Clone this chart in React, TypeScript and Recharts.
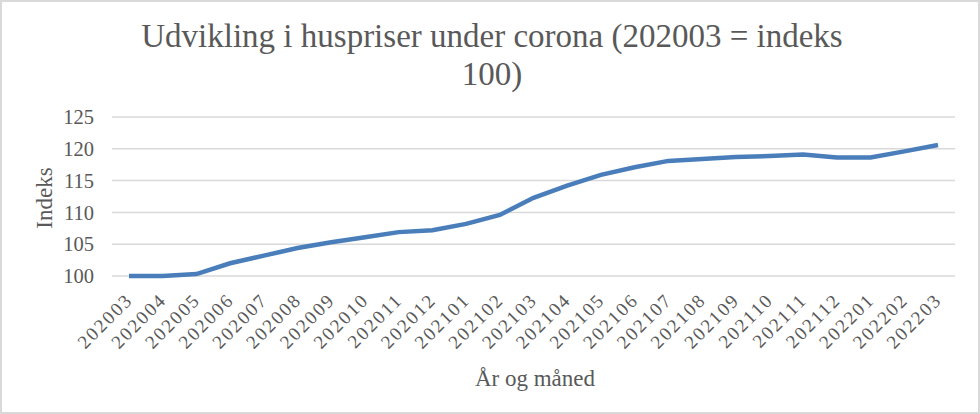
import React from 'react';
import { LineChart, Line, XAxis, YAxis, CartesianGrid } from 'recharts';

const months: string[] = [
  '202003', '202004', '202005', '202006', '202007', '202008', '202009', '202010', '202011', '202012',
  '202101', '202102', '202103', '202104', '202105', '202106', '202107', '202108', '202109', '202110',
  '202111', '202112', '202201', '202202', '202203',
];

const indexValues: number[] = [
  100.0, 100.0, 100.3, 102.0, 103.2, 104.4, 105.3, 106.1, 106.9, 107.2,
  108.2, 109.6, 112.3, 114.2, 115.9, 117.1, 118.1, 118.4, 118.7, 118.85,
  119.1, 118.65, 118.65, 119.6, 120.6,
];

const yTicks: number[] = [100, 105, 110, 115, 120, 125];

const data = months.map((m, i) => ({ month: m, value: indexValues[i] }));

const FONT = '"Liberation Serif", "DejaVu Serif", serif';
const TEXT = '#595959';

const XTick = (props: any) => {
  const { x, y, payload } = props;
  return (
    <g transform={`translate(${x + 5},${y + 17})`}>
      <text
        x={0}
        y={0}
        textAnchor="end"
        transform="rotate(-45)"
        fill={TEXT}
        fontFamily={FONT}
        fontSize={19}
        letterSpacing={2}
      >
        {payload.value}
      </text>
    </g>
  );
};

export default function App() {
  return (
    <div
      style={{
        position: 'absolute',
        left: 0,
        top: 0,
        width: 980,
        height: 414,
        background: '#fff',
        boxSizing: 'border-box',
        border: '2px solid #d9d9d9',
        fontFamily: FONT,
      }}
    >
      <div
        style={{
          position: 'absolute',
          left: 0,
          top: 0,
          width: 980,
          textAlign: 'center',
          fontFamily: FONT,
          fontSize: 33,
          lineHeight: '38px',
          color: TEXT,
          paddingTop: 15,
        }}
      >
        Udvikling i huspriser under corona (202003 = indeks
        <br />
        100)
      </div>
      <div style={{ position: 'absolute', left: -2, top: -2 }}>
        <LineChart
          width={980}
          height={414}
          data={data}
          margin={{ top: 117, right: 25, bottom: 78, left: 0 }}
        >
          <CartesianGrid vertical={false} stroke="#d9d9d9" strokeWidth={1.5} />
          <XAxis
            dataKey="month"
            axisLine={false}
            tickLine={false}
            interval={0}
            padding={{ left: 17, right: 17 }}
            height={60}
            tick={<XTick />}
          />
          <YAxis
            domain={[100, 125]}
            ticks={yTicks}
            axisLine={false}
            tickLine={false}
            width={112}
            tick={{ fill: TEXT, fontFamily: FONT, fontSize: 20.5 }}
            tickMargin={12}
          />
          <Line
            type="linear"
            dataKey="value"
            stroke="#4a7ebb"
            strokeWidth={4.5}
            dot={false}
            isAnimationActive={false}
          />
        </LineChart>
      </div>
      <div
        style={{
          position: 'absolute',
          left: 43,
          top: 196,
          transform: 'translate(-50%, -50%) rotate(-90deg)',
          fontFamily: FONT,
          fontSize: 23,
          color: TEXT,
          whiteSpace: 'nowrap',
        }}
      >
        Indeks
      </div>
      <div
        style={{
          position: 'absolute',
          left: 533,
          top: 377,
          transform: 'translate(-50%, -50%)',
          fontFamily: FONT,
          fontSize: 23,
          color: TEXT,
          whiteSpace: 'nowrap',
        }}
      >
        År og måned
      </div>
    </div>
  );
}
